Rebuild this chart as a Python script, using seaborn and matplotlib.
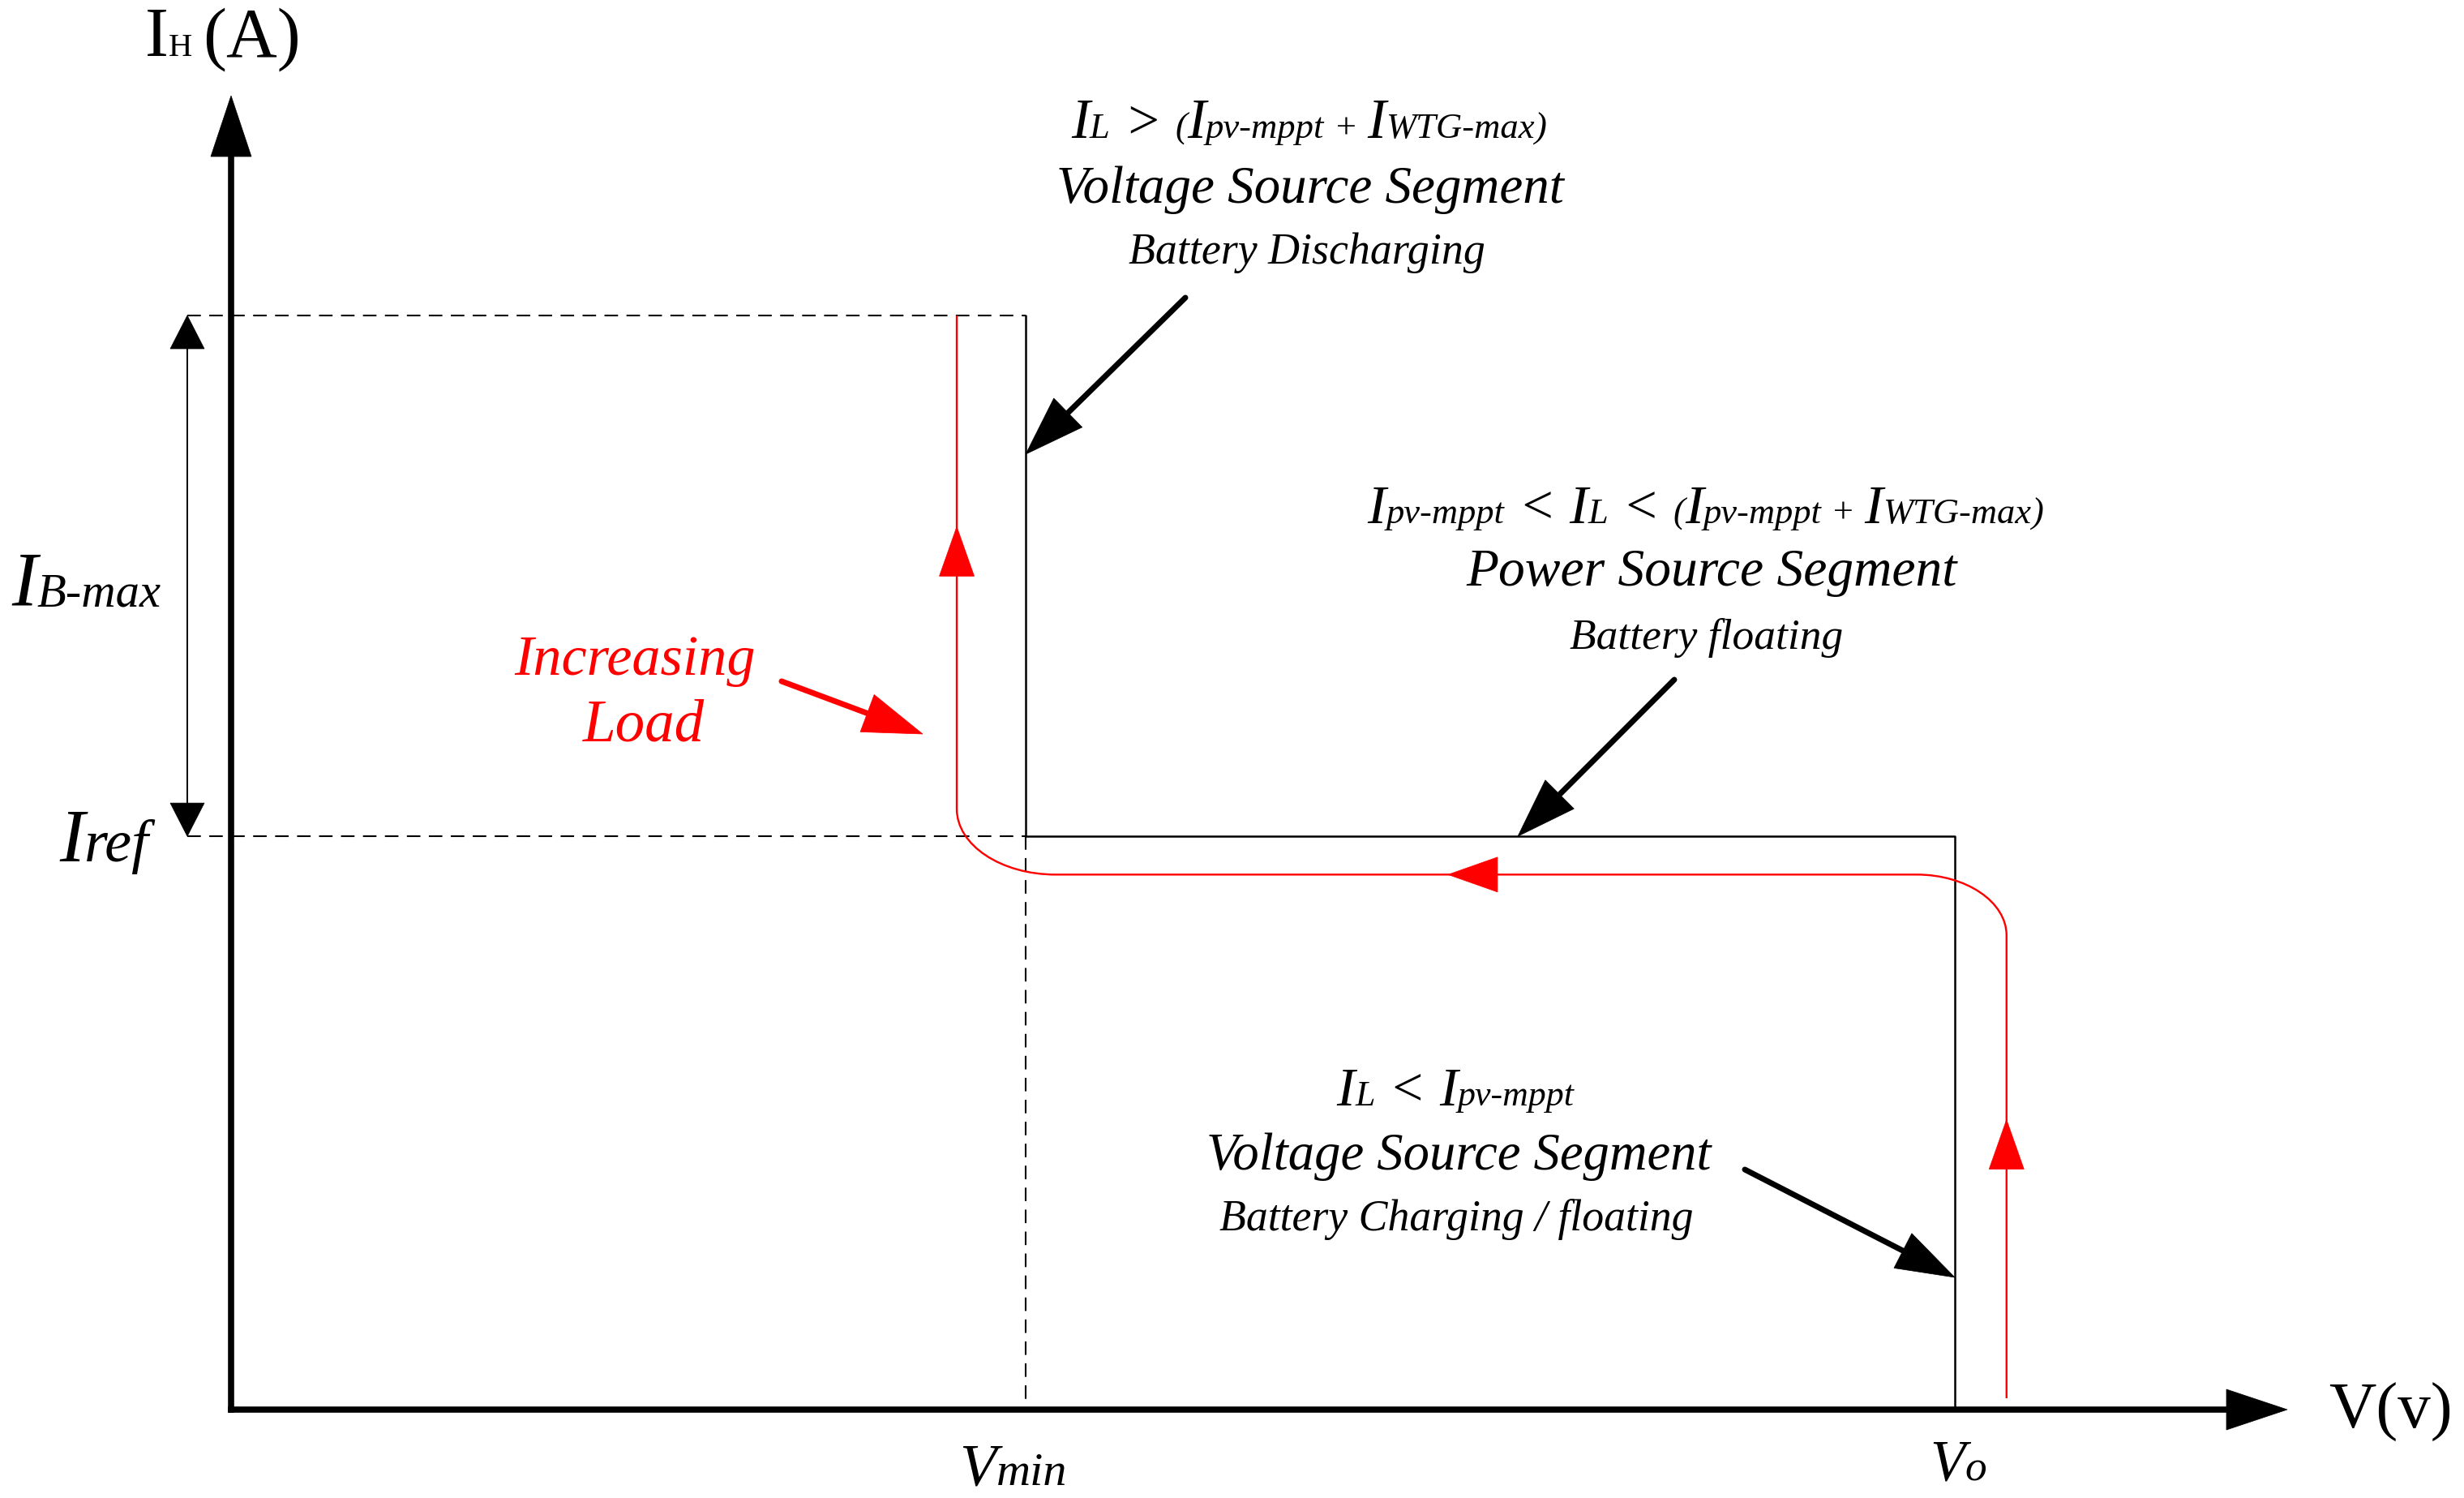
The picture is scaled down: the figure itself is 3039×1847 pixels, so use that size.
import matplotlib
matplotlib.use("Agg")
import matplotlib.pyplot as plt
import numpy as np
import seaborn as sns
from matplotlib.path import Path
from matplotlib.patches import PathPatch, Polygon

# ----------------- data (per-unit values) -----------------
# voltage levels relative to Vo, current levels relative to I_B-max
V_MIN = 0.461
V_O = 1.0
I_REF = 0.524
I_BMAX = 1.0

# black V-I characteristic of the hybrid source
char_v = [V_MIN, V_MIN, V_O, V_O]
char_i = [I_BMAX, I_REF, I_REF, 0.0]

# dashed guide lines
guide_top_v = [-0.0254, V_MIN]
guide_top_i = [I_BMAX, I_BMAX]
guide_ref_v = [-0.0254, V_MIN]
guide_ref_i = [I_REF, I_REF]
guide_vmin_v = [V_MIN, V_MIN]
guide_vmin_i = [I_REF, 0.0]

# red operating trajectory under increasing load
traj_v = [1.030, 1.030, 0.421, 0.421]
traj_i = [0.0104, 0.489, 0.489, I_BMAX]

# direction arrows on the trajectory (tip positions)
traj_arrow_v = [1.030, 0.706, 0.421]
traj_arrow_i = [0.265, 0.489, 0.807]
traj_arrow_dir = [(0, 1), (-1, 0), (0, 1)]

# texts
axis_y_label = [("I", 1.0), ("H", 0.47), (" ", 0.6), ("(A)", 1.0)]
axis_x_label = [("V(v)", 1.0)]
tick_vmin = [("V", 1.0), ("min", 0.78)]
tick_vo = [("V", 1.0), ("o", 0.75)]
tick_ibmax = [("I", 1.0), ("B-max", 0.62)]
tick_iref = [("I", 1.0), ("ref", 0.8)]
seg1_cond = [("I", 1), ("L", .65), (" ", 1), (">", 1), (" ", 1), ("(", .65), ("I", 1),
             ("pv-mppt", .65), (" ", .65), ("+", .65), (" ", .65), ("I", 1),
             ("WTG-max", .65), (")", .65)]
seg1_title = "Voltage Source Segment"
seg1_sub = "Battery Discharging"
seg2_cond = [("I", 1), ("pv-mppt", .65), (" ", 1), ("<", 1), (" ", 1), ("I", 1), ("L", .65),
             (" ", 1), ("<", 1), (" ", 1), ("(", .65), ("I", 1), ("pv-mppt", .65), (" ", .65),
             ("+", .65), (" ", .65), ("I", 1), ("WTG-max", .65), (")", .65)]
seg2_title = "Power Source Segment"
seg2_sub = "Battery floating"
seg3_cond = [("I", 1), ("L", .65), (" ", 1), ("<", 1), (" ", 1), ("I", 1), ("pv-mppt", .65)]
seg3_title = "Voltage Source Segment"
seg3_sub = "Battery Charging / floating"
load_text = ["Increasing", "Load"]

# ----------------- layout -----------------
W, H, DPI = 3039, 1847, 100
OX, OY = 285, 1738      # pixel position of the origin
SX, SY = 2126, 1349     # pixels per unit
PT = 72 / DPI           # points per pixel
FONT = ["Liberation Serif", "DejaVu Serif"]

sns.set_theme(style="white")
plt.rcParams["font.family"] = FONT

fig = plt.figure(figsize=(W / DPI, H / DPI), dpi=DPI)
fig.patch.set_facecolor("white")
ax = fig.add_axes([0, 0, 1, 1])
XLIM = (-OX / SX, (W - OX) / SX)
YLIM = (-(H - OY) / SY, OY / SY)
ax.set_xlim(*XLIM)
ax.set_ylim(*YLIM)
ax.axis("off")


def P(px, py):
    return ((px - OX) / SX, (OY - py) / SY)


# ---- lines drawn with seaborn ----
dash = (0, (8, 5))
for gv, gi in [(guide_top_v, guide_top_i), (guide_ref_v, guide_ref_i),
               (guide_vmin_v, guide_vmin_i)]:
    sns.lineplot(x=gv, y=gi, sort=False, estimator=None, color="black",
                 linewidth=1.5, linestyle=dash, ax=ax)
sns.lineplot(x=char_v, y=char_i, sort=False, estimator=None, color="black",
             linewidth=1.8, ax=ax)
ax.set_xlim(*XLIM)
ax.set_ylim(*YLIM)
ax.axis("off")
if ax.get_legend() is not None:
    ax.get_legend().remove()


def to_disp(pts):
    return ax.transData.transform(np.atleast_2d(pts))


def to_data(pts):
    return ax.transData.inverted().transform(np.atleast_2d(pts))


def head(tip, direction, length, width, color, z=5):
    tip_d = to_disp(tip)[0]
    u = np.asarray(direction, float)
    u = u / np.hypot(*u)
    n = np.array([-u[1], u[0]])
    base = tip_d - u * length
    poly = np.array([tip_d, base + n * width / 2, base - n * width / 2])
    ax.add_patch(Polygon(to_data(poly), closed=True, fc=color, ec=color,
                         lw=0.5, zorder=z))


def arrow(tail, tip, color, lw_px, length, width, cap="round", z=5, both=False):
    t = to_disp(tail)[0]
    p = to_disp(tip)[0]
    u = (p - t) / np.hypot(*(p - t))
    end = p - u * length * 0.8
    start = t + u * length * 0.8 if both else t
    seg = to_data(np.array([start, end]))
    ax.plot(seg[:, 0], seg[:, 1], color=color, lw=lw_px * PT,
            solid_capstyle=cap, zorder=z)
    head(tip, u, length, width, color, z)
    if both:
        head(tail, -u, length, width, color, z)


# ---- red trajectory with rounded corners ----
def rounded_path(xs, ys, radii_px):
    pts = to_disp(np.column_stack([xs, ys]))
    k = 0.5523
    verts = [pts[0]]
    codes = [Path.MOVETO]
    for i in range(1, len(pts) - 1):
        C = pts[i]
        rx, ry = radii_px[i - 1]
        def off(Q):
            d = Q - C
            d = d / np.hypot(*d)
            r = rx if abs(d[0]) > abs(d[1]) else ry
            return C + d * r
        A = off(pts[i - 1])
        B = off(pts[i + 1])
        verts += [A, A + (C - A) * k, B + (C - B) * k, B]
        codes += [Path.LINETO, Path.CURVE4, Path.CURVE4, Path.CURVE4]
    verts.append(pts[-1])
    codes.append(Path.LINETO)
    return Path(to_data(np.array(verts)), codes)


red_path = rounded_path(traj_v, traj_i, [(111, 75), (122, 81)])
ax.add_patch(PathPatch(red_path, fill=False, ec="#ff0000", lw=2.4 * PT,
                       capstyle="butt", zorder=4))
for v, i, d in zip(traj_arrow_v, traj_arrow_i, traj_arrow_dir):
    head((v, i), d, 61, 43, "#ff0000", z=6)

# ---- axes with arrows ----
arrow((0, 0), P(OX, 118), "black", 7.6, 75, 50, cap="projecting", z=7)
arrow((0, 0), P(2821, OY), "black", 7.6, 75, 50, cap="projecting", z=7)

# ---- I_B-max span double arrow ----
arrow((guide_top_v[0], I_REF), (guide_top_v[0], I_BMAX), "black", 2.0, 41, 42,
      cap="butt", both=True)

# ---- annotation arrows ----
arrow(P(1462, 367), (V_MIN, P(0, 560)[1]), "black", 7, 73, 50)
arrow(P(2065, 838), (P(1872, 0)[0], I_REF), "black", 7, 73, 50)
arrow(P(2152, 1442), (V_O, P(0, 1575)[1]), "black", 7, 72, 48)
arrow(P(964, 840), P(1138, 905), "#ff0000", 7, 73, 49)

# ---- texts ----
renderer = fig.canvas.get_renderer()


def measure(s, size, style):
    t = fig.text(0, 0, s, fontsize=size, family=FONT, style=style)
    w = t.get_window_extent(renderer).width
    t.remove()
    return w


def rich(segs, x_px, base_px, width_px, ha="center", color="black", style="italic"):
    if isinstance(segs, str):
        segs = [(segs, 1.0)]

    def widths(scale):
        out = []
        for s, r in segs:
            size = scale * r
            if s.strip() == "":
                out.append(0.25 * len(s) * size / PT)
            else:
                out.append(measure(s, size, style))
        return out

    base = 40.0
    w0 = sum(widths(base))
    scale = base * width_px / w0
    ws = widths(scale)
    total = sum(ws)
    x = x_px - total / 2 if ha == "center" else x_px
    for (s, r), w in zip(segs, ws):
        if s.strip():
            fig.text(x / W, (H - base_px) / H, s, fontsize=scale * r, family=FONT,
                     style=style, color=color, ha="left", va="baseline")
        x += w


rich(axis_y_label, 179, 69, 192, ha="left", style="normal")
rich(axis_x_label, 2872, 1761, 153, ha="left", style="normal")
rich(tick_vmin, 1250, 1831, 133)
rich(tick_vo, 2415, 1825, 70)
rich(tick_ibmax, 14, 747, 185, ha="left")
rich(tick_iref, 73, 1062, 111, ha="left")

rich(seg1_cond, 1614, 170, 587)
rich(seg1_title, 1616, 250, 625)
rich(seg1_sub, 1612, 325, 439)
rich(seg2_cond, 2103, 645, 833)
rich(seg2_title, 2111, 722, 605)
rich(seg2_sub, 2105, 800, 336)
rich(seg3_cond, 1795, 1363, 293)
rich(seg3_title, 1799, 1442, 622)
rich(seg3_sub, 1796, 1517, 584)
rich(load_text[0], 783, 832, 297, color="#ff0000")
rich(load_text[1], 794, 913, 150, color="#ff0000")

fig.savefig("out.png", dpi=DPI, facecolor="white")
